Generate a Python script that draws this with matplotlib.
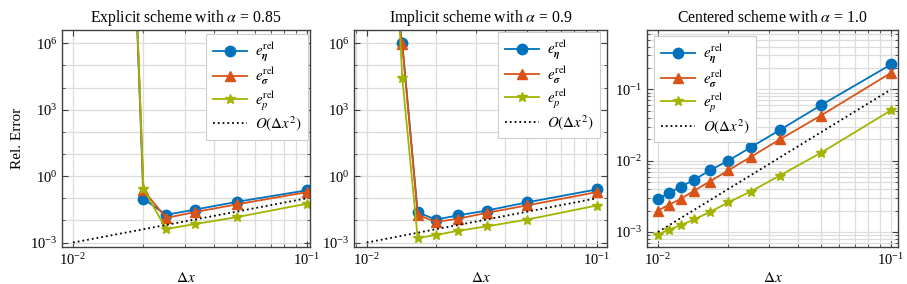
import numpy as np
import matplotlib.pyplot as plt
from matplotlib.ticker import LogLocator, NullFormatter

plt.rcParams['font.family'] = ['Liberation Serif', 'DejaVu Serif']
plt.rcParams['mathtext.fontset'] = 'stix'

# data
dx_exp = [1/60, 1/50, 1/40, 1/30, 1/20, 1/10]
eta_exp = [1e22, 0.094, 0.018, 0.031, 0.069, 0.23]
sig_exp = [1e22, 0.23, 0.013, 0.024, 0.053, 0.19]
p_exp = [1e22, 0.27, 0.0041, 0.0069, 0.014, 0.057]

dx_imp = [1/80, 1/70, 1/60, 1/50, 1/40, 1/30, 1/20, 1/10]
eta_imp = [1e10, 1.0e6, 0.023, 0.011, 0.017, 0.028, 0.066, 0.25]
sig_imp = [1e10, 0.9e6, 0.018, 0.0085, 0.012, 0.022, 0.048, 0.19]
p_imp = [1e16, 2.7e4, 0.0016, 0.0022, 0.0034, 0.0054, 0.011, 0.047]

dx_cen = [1/100, 1/90, 1/80, 1/70, 1/60, 1/50, 1/40, 1/30, 1/20, 1/10]
eta_cen = [0.0029, 0.0035, 0.0043, 0.0054, 0.0073, 0.010, 0.0154, 0.027, 0.060, 0.224]
sig_cen = [0.0020, 0.0024, 0.0029, 0.0038, 0.0051, 0.0073, 0.0113, 0.0199, 0.043, 0.171]
p_cen = [0.00092, 0.00108, 0.00124, 0.0015, 0.0019, 0.0026, 0.0037, 0.0062, 0.0129, 0.051]

ref_dx = [0.01, 0.1]
ref_err = [1e-3, 1e-1]

titles = [r"Explicit scheme with $\alpha$ = 0.85",
          r"Implicit scheme with $\alpha$ = 0.9",
          r"Centered scheme with $\alpha$ = 1.0"]

cols = ["#0072BD", "#D95319", "#A2B400"]

fig = plt.figure(figsize=(9.07, 2.84), dpi=100)
rects = [(62/907, 37/284, 248/907, 217/284),
         (354/907, 37/284, 253/907, 217/284),
         (647/907, 37/284, 251/907, 217/284)]
ylims = [(10**-3.2, 10**6.6), (10**-3.2, 10**6.6), (10**-3.21, 10**-0.166)]
xlims = [(10**-2.047, 10**-0.987), (10**-2.055, 10**-0.955), (10**-2.047, 10**-0.97)]
datasets = [(dx_exp, eta_exp, sig_exp, p_exp),
            (dx_imp, eta_imp, sig_imp, p_imp),
            (dx_cen, eta_cen, sig_cen, p_cen)]
leg_pos = [('upper right', (0.992, 0.982)),
           ('upper right', (0.972, 0.99)),
           ('upper left', (0.028, 0.972))]

for k in range(3):
    ax = fig.add_axes(rects[k])
    dx, e1, e2, e3 = datasets[k]
    ax.plot(dx, e1, '-o', color=cols[0], lw=1.3, ms=7.5, label=r"$e^{\mathrm{rel}}_{\boldsymbol{\eta}}$")
    ax.plot(dx, e2, '-^', color=cols[1], lw=1.3, ms=7.5, label=r"$e^{\mathrm{rel}}_{\boldsymbol{\sigma}}$")
    ax.plot(dx, e3, '-*', color=cols[2], lw=1.3, ms=7.5, label=r"$e^{\mathrm{rel}}_{p}$")
    ax.plot(ref_dx, ref_err, ':', color='black', lw=1.3, label=r"$O(\Delta x^2)$")
    ax.set_xscale('log')
    ax.set_yscale('log')
    ax.set_xlim(*xlims[k])
    ax.set_ylim(*ylims[k])
    ax.set_xticks([0.01, 0.1])
    if k < 2:
        ax.set_yticks([1e-3, 1e0, 1e3, 1e6])
        ax.yaxis.set_minor_locator(LogLocator(base=10, subs=[1.0], numticks=30))
    else:
        ax.set_yticks([1e-3, 1e-2, 1e-1])
        ax.yaxis.set_minor_locator(LogLocator(base=10, subs=np.arange(2, 10), numticks=30))
    ax.yaxis.set_minor_formatter(NullFormatter())
    ax.xaxis.set_minor_locator(LogLocator(base=10, subs=np.arange(2, 10), numticks=30))
    ax.xaxis.set_minor_formatter(NullFormatter())
    ax.grid(True, which='both', color='#dcdcdc', lw=0.9)
    ax.set_axisbelow(True)
    ax.tick_params(which='both', direction='in', top=True, right=True, labelsize=10.5, color='#404040')
    ax.tick_params(which='major', length=4)
    ax.tick_params(which='minor', length=2)
    for sp in ax.spines.values():
        sp.set_color('#404040')
        sp.set_linewidth(1.0)
    ax.set_title(titles[k], fontsize=11.3, pad=6)
    ax.set_xlabel(r"$\Delta x$", fontsize=11, labelpad=2)
    if k == 0:
        ax.set_ylabel("Rel. Error", fontsize=11)
    loc, anchor = leg_pos[k]
    leg = ax.legend(loc=loc, bbox_to_anchor=anchor, fontsize=10.8, fancybox=False, framealpha=1,
                    edgecolor='#cccccc', handlelength=2.3, borderaxespad=0, labelspacing=0.12,
                    borderpad=0.45, handletextpad=0.5)
    leg.get_frame().set_linewidth(0.8)

fig.savefig("out.png", dpi=100)
